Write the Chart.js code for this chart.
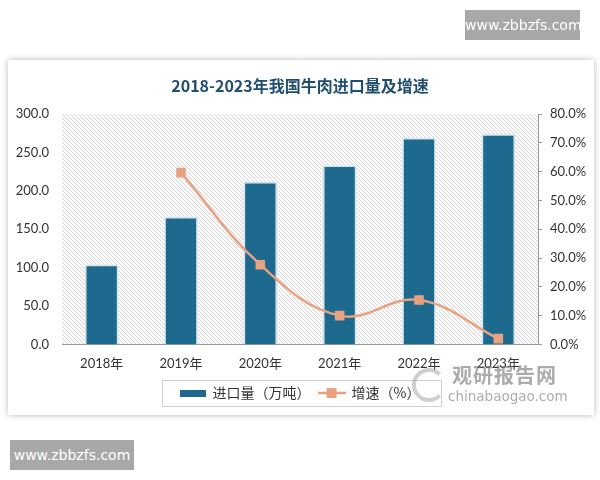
<!DOCTYPE html>
<html><head><meta charset="utf-8">
<script src="https://cdn.jsdelivr.net/npm/chart.js@4/dist/chart.umd.min.js"></script>
<style>
html,body{margin:0;padding:0;background:#fff;width:600px;height:480px;overflow:hidden;font-family:"Noto Sans CJK SC","Noto Sans",sans-serif;}
#card{position:absolute;left:8px;top:60px;width:586px;height:355px;background:#fff;box-shadow:0 0 6px rgba(0,0,0,0.28);}
#wrap{position:absolute;left:0;top:0;width:600px;height:480px;}
.wm{position:absolute;background:#a8a8a8;color:#fff;font-family:"DejaVu Sans",sans-serif;font-size:14px;text-align:center;line-height:30px;white-space:nowrap;}
#cb{position:absolute;left:408px;top:364px;width:170px;height:45px;color:rgba(115,115,115,0.6);pointer-events:none;white-space:nowrap;}
#cb .logo{position:absolute;left:4px;top:4px;width:26px;height:26px;border:4px solid rgba(150,150,150,0.45);border-radius:50%;border-right-color:transparent;}
#cb .t1{position:absolute;left:44px;top:-4px;font-size:20px;font-weight:bold;letter-spacing:1px;}
#cb .t2{position:absolute;left:40px;top:24px;font-size:13.5px;font-family:"DejaVu Sans",sans-serif;}
</style></head>
<body>
<div id="card"></div>
<div id="wrap"><canvas id="c" width="600" height="480"></canvas></div>
<div class="wm" style="left:465px;top:10px;width:115px;height:30px;">www.zbbzfs.com</div>
<div class="wm" style="left:10px;top:440px;width:124px;height:30px;">www.zbbzfs.com</div>
<div id="cb"><div class="logo"></div><div class="t1">观研报告网</div><div class="t2">chinabaogao.com</div></div>
<script>
const categories = ["2018年","2019年","2020年","2021年","2022年","2023年"];
const importVolume = [103.9, 165.9, 211.8, 233.0, 269.0, 274.0];
const growthRate = [null, 59.7, 27.7, 10.0, 15.4, 2.0];
const seriesNames = ["进口量（万吨）", "增速（%）"];
const chartTitle = "2018-2023年我国牛肉进口量及增速";

const BAR = "#1d6a8e", LINE = "#e8a282";
const FONT = "'Noto Sans CJK SC','Noto Sans',sans-serif";
const NUMFONT = "Lato,'Noto Sans CJK SC',sans-serif";
const LEGEND_SHIFT = 6;

function hatch(){
  const p = document.createElement('canvas'); p.width = 4; p.height = 4;
  const g = p.getContext('2d');
  g.fillStyle = '#fbfbfb'; g.fillRect(0,0,4,4);
  g.strokeStyle = '#d6d6d6'; g.lineWidth = 1;
  g.beginPath(); g.moveTo(-1,-1); g.lineTo(5,5); g.moveTo(-1,3); g.lineTo(1,5); g.moveTo(3,-1); g.lineTo(5,1); g.stroke();
  return p;
}
function barIcon(){
  const c = document.createElement('canvas'); c.width = 26; c.height = 7;
  const g = c.getContext('2d'); g.fillStyle = BAR; g.fillRect(0,0,26,7); return c;
}
function lineIcon(){
  const c = document.createElement('canvas'); c.width = 28; c.height = 10;
  const g = c.getContext('2d'); g.strokeStyle = LINE; g.lineWidth = 2.5;
  g.beginPath(); g.moveTo(0,5); g.lineTo(28,5); g.stroke();
  g.fillStyle = LINE; g.fillRect(9,0,10,10); return c;
}

const bgPlugin = {
  id:'bg',
  afterUpdate(chart){
    const lg = chart.legend; if(!lg) return;
    lg.top -= LEGEND_SHIFT; lg.bottom -= LEGEND_SHIFT;
    (lg.legendHitBoxes||[]).forEach(h=>{ h.top -= LEGEND_SHIFT; });
  },
  beforeDraw(chart){
    const a = chart.chartArea, ctx = chart.ctx;
    ctx.save();
    ctx.fillStyle = ctx.createPattern(hatch(), 'repeat');
    ctx.fillRect(a.left, a.top, a.right - a.left, a.bottom - a.top);
    ctx.restore();
  },
  afterDraw(chart){
    const lg = chart.legend; if(!lg || !lg.legendHitBoxes.length) return;
    const hb = lg.legendHitBoxes, ctx = chart.ctx;
    const first = hb[0], last = hb[hb.length-1];
    const cy = first.top + first.height/2;
    const x0 = first.left - 18, x1 = last.left + last.width + 20;
    ctx.save(); ctx.strokeStyle = '#d0d0d0'; ctx.lineWidth = 1;
    ctx.strokeRect(Math.round(x0)+0.5, Math.round(cy-13)+0.5, Math.round(x1-x0), 26);
    ctx.restore();
  }
};

new Chart(document.getElementById('c'), {
  data:{
    labels: categories,
    datasets:[
      {type:'bar', label:seriesNames[0], data:importVolume, yAxisID:'y', backgroundColor:BAR,
       borderColor:'#cfe5ee', borderWidth:1.5, barPercentage:0.42, categoryPercentage:1, order:2},
      {type:'line', label:seriesNames[1], data:growthRate, yAxisID:'y1', borderColor:LINE, borderWidth:2.5,
       tension:0.4, pointStyle:'rect', pointRadius:5, pointBackgroundColor:LINE, pointBorderColor:LINE, order:1}
    ]
  },
  options:{
    responsive:false, animation:false,
    layout:{padding:{top:76,left:0,right:0,bottom:64}},
    plugins:{
      title:{display:true, text:chartTitle, color:'#1f4e6e', font:{family:FONT,size:16,weight:'bold'}, padding:{top:0,bottom:19}},
      legend:{position:'bottom', labels:{usePointStyle:true, pointStyleWidth:26, padding:8, color:'#333',
        font:{family:FONT,size:14},
        generateLabels(chart){
          const items = Chart.defaults.plugins.legend.labels.generateLabels(chart);
          items.forEach(it=>{ it.pointStyle = it.datasetIndex===0 ? barIcon() : lineIcon(); });
          return items.sort((a,b)=>a.datasetIndex-b.datasetIndex);
        }}},
      tooltip:{enabled:false}
    },
    scales:{
      x:{grid:{display:false,drawTicks:false}, border:{display:true,color:'#999',width:1},
         ticks:{color:'#333',font:{family:NUMFONT,size:13},padding:12}},
      y:{position:'left', min:0, max:300, grid:{display:false,drawTicks:false}, border:{display:false},
         afterFit(s){ s.width = 62; },
         ticks:{stepSize:50, padding:13, color:'#333', font:{family:NUMFONT,size:13}, callback:v=>v.toFixed(1)}},
      y1:{position:'right', min:0, max:80, grid:{display:true,drawOnChartArea:false,tickLength:4,color:'#999'},
         border:{display:true,color:'#999'},
         afterFit(s){ s.width = 62; },
         ticks:{stepSize:10, padding:8, color:'#333', font:{family:NUMFONT,size:13}, callback:v=>v.toFixed(1)+'%'}}
    }
  },
  plugins:[bgPlugin]
});
</script>
</body></html>
